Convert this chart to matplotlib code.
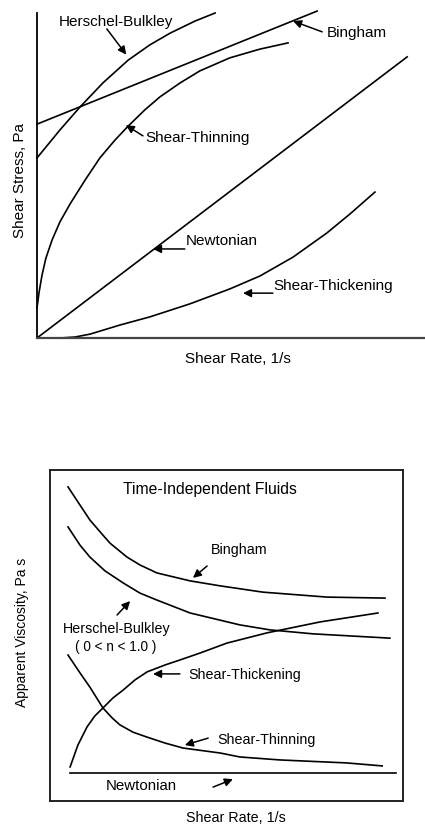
import matplotlib
matplotlib.use("Agg")
import matplotlib.pyplot as plt

plt.rcParams['font.family'] = ['Liberation Sans', 'DejaVu Sans']

# ---------------- Top panel: shear stress vs shear rate ----------------
hb_x = [0.00, 0.59, 1.11, 1.70, 2.35, 2.91, 3.43, 4.07, 4.59]
hb_y = [5.54, 6.40, 7.11, 7.85, 8.55, 9.02, 9.38, 9.75, 10.00]

bing_x = [0.00, 7.22]
bing_y = [6.58, 10.06]

thin_x = [0.00, 0.05, 0.13, 0.23, 0.39, 0.59, 0.85, 1.24, 1.62, 2.01, 2.35,
          2.78, 3.17, 3.69, 4.20, 4.97, 5.75, 6.47]
thin_y = [0.92, 1.38, 1.94, 2.46, 3.02, 3.57, 4.12, 4.86, 5.54, 6.09, 6.52,
          7.02, 7.42, 7.85, 8.22, 8.62, 8.89, 9.08]

newt_x = [0.00, 9.54]
newt_y = [0.00, 8.65]

thick_x = [0.59, 0.98, 1.37, 2.14, 2.91, 3.94, 4.97, 5.75, 6.60, 7.47, 8.07, 8.71]
thick_y = [0.00, 0.03, 0.12, 0.40, 0.65, 1.05, 1.51, 1.91, 2.49, 3.23, 3.82, 4.49]

top_xlabel = "Shear Rate, 1/s"
top_ylabel = "Shear Stress, Pa"

# ---------------- Bottom panel: apparent viscosity vs shear rate --------
vb_x = [0.51, 0.85, 1.13, 1.42, 1.70, 2.18, 2.55, 3.03, 3.97, 4.82, 6.03, 7.85, 9.49]
vb_y = [9.49, 8.94, 8.49, 8.13, 7.79, 7.37, 7.13, 6.89, 6.65, 6.50, 6.31, 6.16, 6.13]

vhb_x = [0.51, 0.85, 1.13, 1.56, 2.07, 2.55, 3.03, 3.97, 5.38, 6.23, 7.45, 9.63]
vhb_y = [8.28, 7.73, 7.37, 6.95, 6.59, 6.28, 6.07, 5.68, 5.32, 5.17, 5.05, 4.92]

vthk_x = [0.57, 0.79, 1.05, 1.27, 1.50, 1.78, 2.07, 2.41, 2.75, 3.26, 3.68, 4.25,
          5.01, 6.15, 7.65, 9.29]
vthk_y = [1.03, 1.69, 2.24, 2.57, 2.81, 3.11, 3.35, 3.66, 3.90, 4.11, 4.26, 4.47,
          4.77, 5.08, 5.41, 5.68]

vthn_x = [0.51, 0.85, 1.13, 1.50, 1.76, 1.98, 2.35, 2.75, 3.26, 3.77, 4.82, 5.38,
          6.52, 8.41, 9.41]
vthn_y = [4.41, 3.87, 3.44, 2.81, 2.51, 2.30, 2.08, 1.93, 1.75, 1.60, 1.45, 1.33,
          1.24, 1.15, 1.06]

vnewt_x = [0.57, 9.80]
vnewt_y = [0.85, 0.85]

bot_title = "Time-Independent Fluids"
bot_xlabel = "Shear Rate, 1/s"
bot_ylabel = "Apparent Viscosity, Pa s"

W, H = 425, 825
fig = plt.figure(figsize=(W / 100, H / 100), dpi=100)


def frac(l, t, r, b):
    return [l / W, 1 - b / H, (r - l) / W, (b - t) / H]


LW = 1.2
arrow = dict(arrowstyle='-|>', color='black', lw=1.1, mutation_scale=12,
             shrinkA=0, shrinkB=0)

# ---- top axes
ax1 = fig.add_axes(frac(37, 13, 425, 338))
for xs, ys in [(hb_x, hb_y), (bing_x, bing_y), (thin_x, thin_y),
               (newt_x, newt_y), (thick_x, thick_y)]:
    ax1.plot(xs, ys, color='black', lw=LW, clip_on=False,
             solid_joinstyle='round')
ax1.set_xlim(0, 10)
ax1.set_ylim(0, 10)
ax1.spines['top'].set_visible(False)
ax1.spines['right'].set_visible(False)
ax1.spines['left'].set_linewidth(1.3)
ax1.spines['bottom'].set_linewidth(1.6)
ax1.spines['bottom'].set_color('#444444')
ax1.set_xticks([])
ax1.set_yticks([])

fs_top = 11
ax1.text(0.57, 9.72, "Herschel-Bulkley", fontsize=fs_top, va='center', ha='left')
ax1.annotate("", xy=(2.30, 8.72), xytext=(1.80, 9.51), arrowprops=arrow)
ax1.text(7.47, 9.38, "Bingham", fontsize=fs_top, va='center', ha='left')
ax1.annotate("", xy=(6.60, 9.75), xytext=(7.35, 9.42), arrowprops=arrow)
ax1.text(2.80, 6.15, "Shear-Thinning", fontsize=fs_top, va='center', ha='left')
ax1.annotate("", xy=(2.29, 6.55), xytext=(2.73, 6.22), arrowprops=arrow)
ax1.text(3.83, 2.98, "Newtonian", fontsize=fs_top, va='center', ha='left')
ax1.annotate("", xy=(2.99, 2.74), xytext=(3.81, 2.74), arrowprops=arrow)
ax1.text(6.10, 1.60, "Shear-Thickening", fontsize=fs_top, va='center', ha='left')
ax1.annotate("", xy=(5.31, 1.38), xytext=(6.08, 1.38), arrowprops=arrow)

fig.text(238 / W, 1 - 359 / H, top_xlabel, fontsize=fs_top, ha='center', va='center')
fig.text(20 / W, 1 - 180 / H, top_ylabel, fontsize=fs_top, ha='center', va='center',
         rotation=90)

# ---- bottom axes
ax2 = fig.add_axes(frac(50, 470, 403, 801))
for xs, ys in [(vb_x, vb_y), (vhb_x, vhb_y), (vthk_x, vthk_y),
               (vthn_x, vthn_y), (vnewt_x, vnewt_y)]:
    ax2.plot(xs, ys, color='black', lw=LW, solid_joinstyle='round')
ax2.set_xlim(0, 10)
ax2.set_ylim(0, 10)
for s in ax2.spines.values():
    s.set_linewidth(1.4)
    s.set_color('#222222')
ax2.set_xticks([])
ax2.set_yticks([])

fs_bot = 10.3
ax2.text(2.07, 9.40, bot_title, fontsize=11.3, va='center', ha='left')
ax2.text(4.56, 7.58, "Bingham", fontsize=fs_bot, va='center', ha='left')
ax2.annotate("", xy=(4.05, 6.74), xytext=(4.45, 7.10), arrowprops=arrow)
ax2.text(0.37, 5.20, "Herschel-Bulkley", fontsize=fs_bot, va='center', ha='left')
ax2.text(1.86, 4.65, "( 0 < n < 1.0 )", fontsize=fs_bot - 0.5, va='center', ha='center')
ax2.annotate("", xy=(2.27, 6.04), xytext=(1.90, 5.62), arrowprops=arrow)
ax2.text(3.91, 3.81, "Shear-Thickening", fontsize=fs_bot, va='center', ha='left')
ax2.annotate("", xy=(2.92, 3.84), xytext=(3.68, 3.84), arrowprops=arrow)
ax2.text(4.73, 1.84, "Shear-Thinning", fontsize=fs_bot, va='center', ha='left')
ax2.annotate("", xy=(3.82, 1.69), xytext=(4.48, 1.90), arrowprops=arrow)
ax2.text(1.59, 0.45, "Newtonian", fontsize=10.8, va='center', ha='left')
ax2.annotate("", xy=(5.18, 0.66), xytext=(4.62, 0.42), arrowprops=arrow)

fig.text(236 / W, 1 - 818 / H, bot_xlabel, fontsize=fs_bot, ha='center', va='center')
fig.text(22 / W, 1 - 632 / H, bot_ylabel, fontsize=fs_bot - 0.3, ha='center', va='center',
         rotation=90)

fig.savefig("out.png", dpi=100)
